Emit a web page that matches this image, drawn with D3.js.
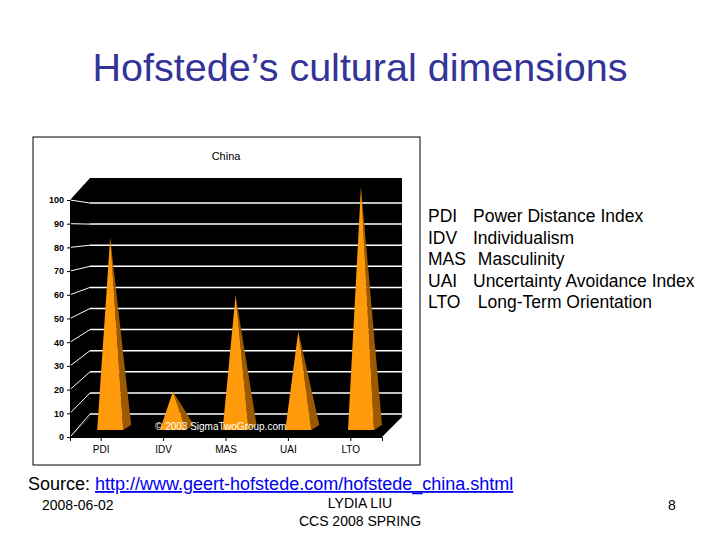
<!DOCTYPE html><html><head><meta charset="utf-8"><script src="https://cdn.jsdelivr.net/npm/d3@7"></script>
<style>body{margin:0;background:#fff}</style></head><body><svg id="c" width="720" height="540"></svg>
<script>
const categories=["PDI","IDV","MAS","UAI","LTO"];
const values=[80,16,56,41,101];
const ticks=[0,10,20,30,40,50,60,70,80,90,100];
const legendCodes=["PDI","IDV","MAS","UAI","LTO"];
const legendNames=["Power Distance Index","Individualism"," Masculinity","Uncertainty Avoidance Index"," Long-Term Orientation"];
const svg=d3.select("#c"),F="Arial, 'Liberation Sans', sans-serif";
svg.append("text").attr("x",360).attr("y",81).attr("text-anchor","middle").attr("font-family",F).attr("font-size",39.5).attr("fill","#333399").text("Hofstede’s cultural dimensions");
svg.append("rect").attr("x",33).attr("y",137).attr("width",387).attr("height",328).attr("fill","#fff").attr("stroke","#000");
svg.append("text").attr("x",226).attr("y",160).attr("text-anchor","middle").attr("font-family",F).attr("font-size",11).text("China");
const dx=20,dy=20;
const yF=d3.scaleLinear().domain([0,100]).range([437,200]);
const yB=d3.scaleLinear().domain([0,100]).range([414,203]);
const x0=70,x1=382;
svg.append("polygon").attr("points",`${x0},${yF(0)} ${x0},${yF(100)} ${x0+dx},178 ${x0+dx},${yF(0)-dy}`).attr("fill","#000");
svg.append("rect").attr("x",x0+dx).attr("y",178).attr("width",x1-x0).attr("height",yF(0)-dy-178).attr("fill","#000");
svg.append("polygon").attr("points",`${x0},${yF(0)} ${x0+dx},${yF(0)-dy} ${x1+dx},${yF(0)-dy} ${x1},${yF(0)}`).attr("fill","#000");
ticks.forEach(t=>{
  svg.append("line").attr("x1",x0+dx).attr("x2",x1+dx).attr("y1",yB(t)).attr("y2",yB(t)).attr("stroke","#fff").attr("stroke-width",1.5);
  svg.append("line").attr("x1",x0).attr("x2",x0+dx).attr("y1",yF(t)).attr("y2",yB(t)).attr("stroke","#fff");
});
const yAxis=d3.axisLeft(yF).tickValues(ticks).tickSize(3);
const ga=svg.append("g").attr("transform",`translate(${x0},0)`).call(yAxis);
ga.selectAll("text").attr("font-family",F).attr("font-size",9).attr("font-weight","bold");
const xs=d3.scaleBand().domain(categories).range([x0,x1]);
const gx=svg.append("g").attr("transform",`translate(0,${yF(0)})`).call(d3.axisBottom(xs).tickSize(4));
gx.selectAll("text").attr("font-family",F).attr("font-size",10).attr("dy","0.9em");
const yP=d3.scaleLinear().domain([0,100]).range([430,189]);
categories.forEach((c,i)=>{
  const cx=xs(c)+xs.bandwidth()/2+9+(i*0.3),v=values[i],base=yP(0),top=yP(v),hw=13;
  svg.append("polygon").attr("points",`${cx},${top} ${cx+hw},${base} ${cx+hw+8},${base-5}`).attr("fill","#9c5a00");
  svg.append("polygon").attr("points",`${cx},${top} ${cx-hw},${base} ${cx+hw},${base}`).attr("fill","#ff9a0a");
});
svg.append("text").attr("x",155).attr("y",430).attr("font-family",F).attr("font-size",10).attr("fill","#fff").text("© 2003 SigmaTwoGroup.com");
const lg=svg.append("g").attr("font-family",F).attr("font-size",17.5);
legendCodes.forEach((c,i)=>{
  lg.append("text").attr("x",428).attr("y",222+i*21.6).text(c);
  lg.append("text").attr("x",473).attr("y",222+i*21.6).attr("xml:space","preserve").text(legendNames[i]);
});
const s=svg.append("text").attr("x",28).attr("y",490).attr("font-family",F).attr("font-size",18);
s.append("tspan").text("Source: ");
s.append("tspan").attr("fill","#0000ee").attr("text-decoration","underline").text("http://www.geert-hofstede.com/hofstede_china.shtml");
svg.append("text").attr("x",42).attr("y",510).attr("font-family",F).attr("font-size",14).text("2008-06-02");
svg.append("text").attr("x",360).attr("y",508).attr("text-anchor","middle").attr("font-family",F).attr("font-size",14).text("LYDIA LIU");
svg.append("text").attr("x",360).attr("y",526).attr("text-anchor","middle").attr("font-family",F).attr("font-size",14).text("CCS 2008 SPRING");
svg.append("text").attr("x",668).attr("y",510).attr("font-family",F).attr("font-size",14).text("8");
</script></body></html>
